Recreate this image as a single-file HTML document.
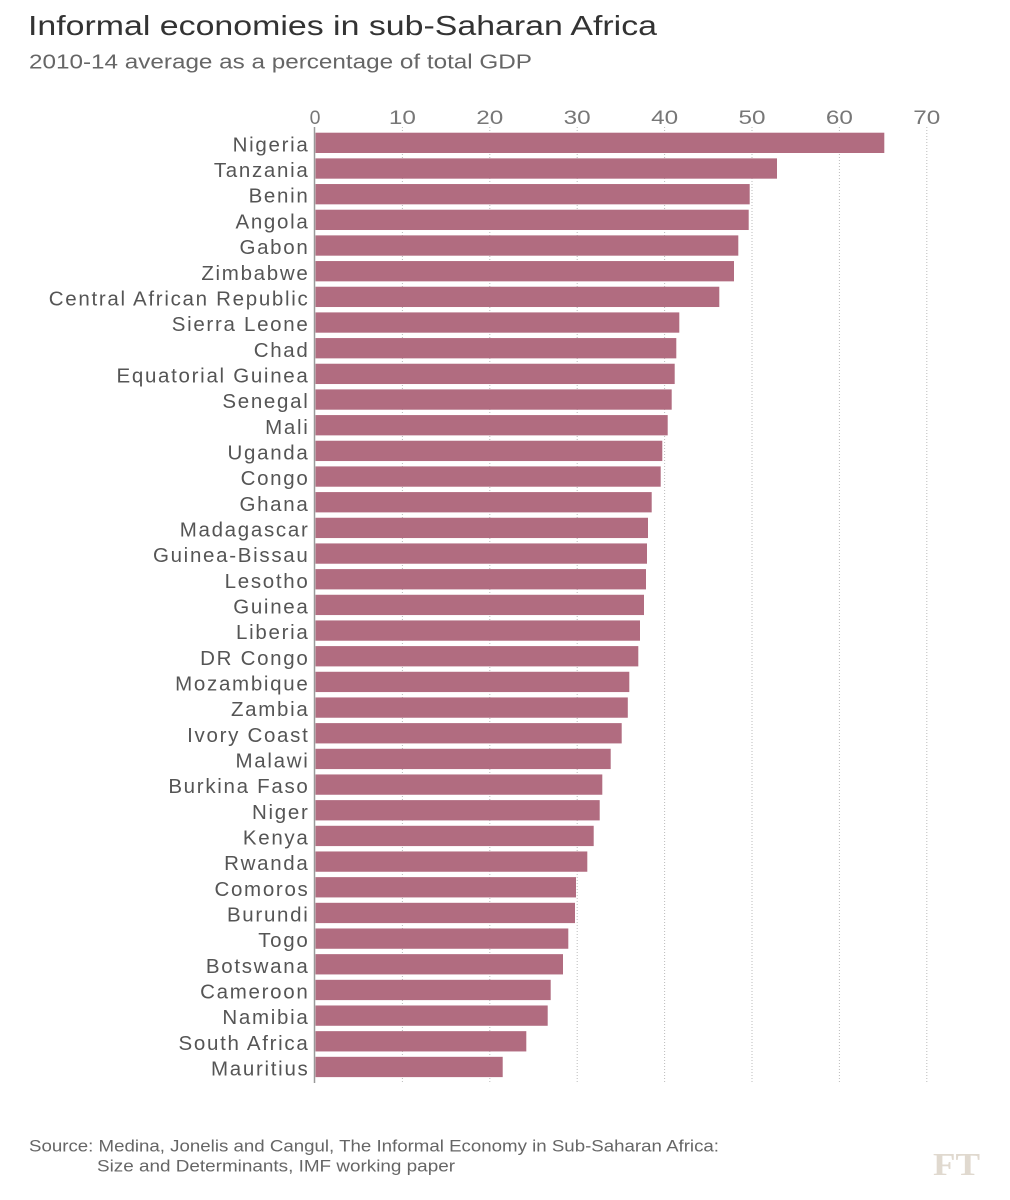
<!DOCTYPE html>
<html>
<head>
<meta charset="utf-8">
<style>
  html, body { margin: 0; padding: 0; background: #fff; }
  body { width: 1010px; height: 1200px; overflow: hidden; }
  svg { display: block; }
  .lbl { font-family: "Liberation Sans", sans-serif; font-size: 20.5px; fill: #555; letter-spacing: 1.7px; }
  .tick { font-family: "Liberation Sans", sans-serif; font-size: 19.5px; fill: #777; }
</style>
</head>
<body>
<svg width="1010" height="1200" viewBox="0 0 1010 1200" xmlns="http://www.w3.org/2000/svg">
  <rect x="0" y="0" width="1010" height="1200" fill="#fff"/>
  <text x="28" y="35" font-family="Liberation Sans, sans-serif" font-size="28" fill="#333" textLength="629" lengthAdjust="spacingAndGlyphs">Informal economies in sub-Saharan Africa</text>
  <text x="29" y="68.3" font-family="Liberation Sans, sans-serif" font-size="20.5" fill="#666" textLength="503" lengthAdjust="spacingAndGlyphs">2010-14 average as a percentage of total GDP</text>

  <!-- ticks -->
  <g class="tick" text-anchor="middle">
    <text x="315" y="124">0</text>
    <text x="402.4" y="124" textLength="27" lengthAdjust="spacingAndGlyphs">10</text>
    <text x="489.8" y="124" textLength="27" lengthAdjust="spacingAndGlyphs">20</text>
    <text x="577.2" y="124" textLength="27" lengthAdjust="spacingAndGlyphs">30</text>
    <text x="664.6" y="124" textLength="27" lengthAdjust="spacingAndGlyphs">40</text>
    <text x="752" y="124" textLength="27" lengthAdjust="spacingAndGlyphs">50</text>
    <text x="839.4" y="124" textLength="27" lengthAdjust="spacingAndGlyphs">60</text>
    <text x="926.8" y="124" textLength="27" lengthAdjust="spacingAndGlyphs">70</text>
  </g>

  <!-- grid -->
  <g stroke="#bbb" stroke-width="1" stroke-dasharray="1 2">
    <line x1="402.4" y1="127" x2="402.4" y2="1083"/>
    <line x1="489.8" y1="127" x2="489.8" y2="1083"/>
    <line x1="577.2" y1="127" x2="577.2" y2="1083"/>
    <line x1="664.6" y1="127" x2="664.6" y2="1083"/>
    <line x1="752" y1="127" x2="752" y2="1083"/>
    <line x1="839.4" y1="127" x2="839.4" y2="1083"/>
    <line x1="926.8" y1="127" x2="926.8" y2="1083"/>
  </g>

  <!-- bars -->
  <g fill="#b16c80">
    <rect x="315.5" y="132.7" width="568.8" height="20.3"/>
    <rect x="315.5" y="158.37" width="461.5" height="20.3"/>
    <rect x="315.5" y="184.04" width="434.2" height="20.3"/>
    <rect x="315.5" y="209.71" width="433.2" height="20.3"/>
    <rect x="315.5" y="235.38" width="422.8" height="20.3"/>
    <rect x="315.5" y="261.05" width="418.5" height="20.3"/>
    <rect x="315.5" y="286.72" width="403.8" height="20.3"/>
    <rect x="315.5" y="312.39" width="363.8" height="20.3"/>
    <rect x="315.5" y="338.06" width="360.8" height="20.3"/>
    <rect x="315.5" y="363.73" width="359.2" height="20.3"/>
    <rect x="315.5" y="389.4" width="356.2" height="20.3"/>
    <rect x="315.5" y="415.07" width="352.2" height="20.3"/>
    <rect x="315.5" y="440.74" width="346.8" height="20.3"/>
    <rect x="315.5" y="466.41" width="345.2" height="20.3"/>
    <rect x="315.5" y="492.08" width="336.2" height="20.3"/>
    <rect x="315.5" y="517.75" width="332.5" height="20.3"/>
    <rect x="315.5" y="543.42" width="331.5" height="20.3"/>
    <rect x="315.5" y="569.09" width="330.5" height="20.3"/>
    <rect x="315.5" y="594.76" width="328.5" height="20.3"/>
    <rect x="315.5" y="620.43" width="324.5" height="20.3"/>
    <rect x="315.5" y="646.1" width="322.8" height="20.3"/>
    <rect x="315.5" y="671.77" width="313.8" height="20.3"/>
    <rect x="315.5" y="697.44" width="312.3" height="20.3"/>
    <rect x="315.5" y="723.11" width="306.2" height="20.3"/>
    <rect x="315.5" y="748.78" width="295.2" height="20.3"/>
    <rect x="315.5" y="774.45" width="286.8" height="20.3"/>
    <rect x="315.5" y="800.12" width="284.2" height="20.3"/>
    <rect x="315.5" y="825.79" width="278.2" height="20.3"/>
    <rect x="315.5" y="851.46" width="271.8" height="20.3"/>
    <rect x="315.5" y="877.13" width="260.5" height="20.3"/>
    <rect x="315.5" y="902.8" width="259.5" height="20.3"/>
    <rect x="315.5" y="928.47" width="252.8" height="20.3"/>
    <rect x="315.5" y="954.14" width="247.5" height="20.3"/>
    <rect x="315.5" y="979.81" width="235.2" height="20.3"/>
    <rect x="315.5" y="1005.48" width="232.2" height="20.3"/>
    <rect x="315.5" y="1031.15" width="210.8" height="20.3"/>
    <rect x="315.5" y="1056.82" width="187.2" height="20.3"/>
  </g>

  <!-- axis line -->
  <line x1="314.5" y1="127" x2="314.5" y2="1083" stroke="#999" stroke-width="1.5"/>

  <!-- labels -->
  <g class="lbl" text-anchor="end">
    <text x="309.5" y="151.4">Nigeria</text>
    <text x="309.5" y="177.07">Tanzania</text>
    <text x="309.5" y="202.74">Benin</text>
    <text x="309.5" y="228.41">Angola</text>
    <text x="309.5" y="254.08">Gabon</text>
    <text x="309.5" y="279.75">Zimbabwe</text>
    <text x="309.5" y="305.42">Central African Republic</text>
    <text x="309.5" y="331.09">Sierra Leone</text>
    <text x="309.5" y="356.76">Chad</text>
    <text x="309.5" y="382.43">Equatorial Guinea</text>
    <text x="309.5" y="408.1">Senegal</text>
    <text x="309.5" y="433.77">Mali</text>
    <text x="309.5" y="459.44">Uganda</text>
    <text x="309.5" y="485.11">Congo</text>
    <text x="309.5" y="510.78">Ghana</text>
    <text x="309.5" y="536.45">Madagascar</text>
    <text x="309.5" y="562.12">Guinea-Bissau</text>
    <text x="309.5" y="587.79">Lesotho</text>
    <text x="309.5" y="613.46">Guinea</text>
    <text x="309.5" y="639.13">Liberia</text>
    <text x="309.5" y="664.8">DR Congo</text>
    <text x="309.5" y="690.47">Mozambique</text>
    <text x="309.5" y="716.14">Zambia</text>
    <text x="309.5" y="741.81">Ivory Coast</text>
    <text x="309.5" y="767.48">Malawi</text>
    <text x="309.5" y="793.15">Burkina Faso</text>
    <text x="309.5" y="818.82">Niger</text>
    <text x="309.5" y="844.49">Kenya</text>
    <text x="309.5" y="870.16">Rwanda</text>
    <text x="309.5" y="895.83">Comoros</text>
    <text x="309.5" y="921.5">Burundi</text>
    <text x="309.5" y="947.17">Togo</text>
    <text x="309.5" y="972.84">Botswana</text>
    <text x="309.5" y="998.51">Cameroon</text>
    <text x="309.5" y="1024.18">Namibia</text>
    <text x="309.5" y="1049.85">South Africa</text>
    <text x="309.5" y="1075.52">Mauritius</text>
  </g>

  <!-- source -->
  <text x="29" y="1151.7" font-family="Liberation Sans, sans-serif" font-size="17" fill="#666" textLength="690" lengthAdjust="spacingAndGlyphs">Source: Medina, Jonelis and Cangul, The Informal Economy in Sub-Saharan Africa:</text>
  <text x="97" y="1171.7" font-family="Liberation Sans, sans-serif" font-size="17" fill="#666" textLength="358" lengthAdjust="spacingAndGlyphs">Size and Determinants, IMF working paper</text>

  <!-- FT logo -->
  <text x="933" y="1175" font-family="Liberation Serif, serif" font-weight="bold" font-size="32" fill="#e0d9cf" textLength="47" lengthAdjust="spacingAndGlyphs">FT</text>
</svg>
</body>
</html>
